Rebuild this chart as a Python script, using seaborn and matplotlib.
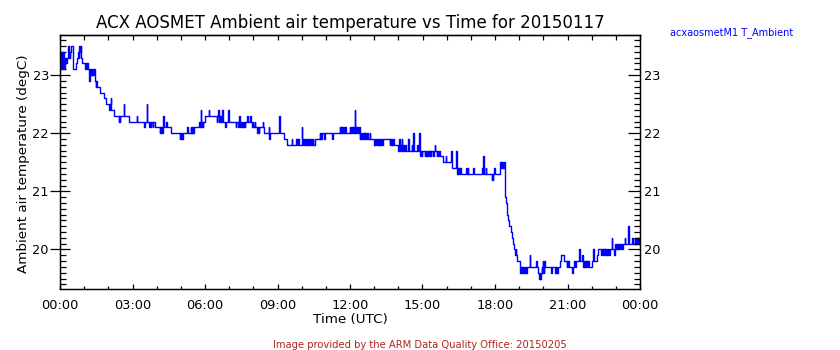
import numpy as np
import pandas as pd
import matplotlib
matplotlib.use("Agg")
import matplotlib.pyplot as plt
from matplotlib.ticker import MultipleLocator, FixedLocator, NullFormatter
import seaborn as sns

sns.set_theme(style="white")
plt.rcParams["font.family"] = ["DejaVu Sans"]

# Ambient air temperature (degC), minute of day where each new reading starts
night_min = [0, 1, 2, 4, 5, 7, 8, 10, 12, 13, 15, 16, 17, 19, 20, 21, 22, 23, 25, 26,
             28, 32, 40, 42, 44, 46, 47, 48, 50, 51, 52, 54, 62, 65, 67, 68, 70, 73, 74, 75,
             76, 78, 79, 80, 81, 83, 84, 86, 88, 89, 90, 91, 92, 93, 99, 110, 113, 122, 123, 124,
             125, 126, 127, 134, 146, 147, 148, 150, 159, 160, 171, 190, 191, 209, 211, 215, 216, 222, 223, 226,
             227, 230, 231, 235, 248, 249, 250, 251, 252, 253, 254, 255, 256, 257]
night_temp = [23.3, 23.1, 23.4, 23.1, 23.4, 23.1, 23.4, 23.1, 23.3, 23.2, 23.3, 23.2, 23.3, 23.5, 23.4, 23.5, 23.3, 23.4, 23.3, 23.4,
              23.5, 23.1, 23.2, 23.3, 23.4, 23.3, 23.4, 23.5, 23.4, 23.5, 23.3, 23.2, 23.1, 23.2, 23.1, 23.2, 23.1, 22.9, 23.1, 23.0,
              23.1, 23.0, 23.1, 23.0, 23.1, 23.0, 23.1, 23.0, 22.9, 22.8, 22.9, 22.8, 22.9, 22.8, 22.7, 22.6, 22.5, 22.4, 22.5, 22.4,
              22.5, 22.6, 22.4, 22.3, 22.2, 22.3, 22.2, 22.3, 22.5, 22.3, 22.2, 22.3, 22.2, 22.1, 22.2, 22.5, 22.2, 22.1, 22.2, 22.1,
              22.2, 22.1, 22.2, 22.1, 22.0, 22.1, 22.0, 22.1, 22.0, 22.1, 22.0, 22.1, 22.3, 22.1]

morning_min = [258, 264, 265, 275, 298, 299, 300, 302, 303, 305, 316, 317, 324, 325, 327, 328, 330, 331, 333, 346,
               347, 349, 350, 351, 353, 354, 356, 361, 369, 370, 390, 391, 393, 394, 395, 397, 398, 400, 403, 404,
               410, 411, 418, 419, 437, 438, 443, 444, 445, 446, 448, 449, 451, 452, 454, 455, 457, 459, 460, 465,
               466, 472, 473, 476, 478, 479, 484, 485, 488, 489, 490, 492, 493, 495, 503, 504, 506, 518, 519, 521,
               544, 545]
morning_temp = [22.1, 22.2, 22.1, 22.0, 21.9, 22.0, 21.9, 22.0, 21.9, 22.0, 22.1, 22.0, 22.1, 22.0, 22.1, 22.0, 22.1, 22.0, 22.1, 22.2,
                22.1, 22.4, 22.2, 22.1, 22.2, 22.1, 22.2, 22.3, 22.4, 22.3, 22.2, 22.3, 22.4, 22.2, 22.3, 22.2, 22.3, 22.2, 22.4, 22.2,
                22.1, 22.2, 22.4, 22.2, 22.1, 22.2, 22.1, 22.2, 22.3, 22.1, 22.2, 22.1, 22.2, 22.1, 22.2, 22.1, 22.2, 22.1, 22.2, 22.3,
                22.2, 22.3, 22.2, 22.1, 22.2, 22.1, 22.2, 22.1, 22.0, 22.1, 22.0, 22.1, 22.0, 22.1, 22.2, 22.1, 22.0, 22.1, 21.9, 22.0,
                22.3, 22.0]

midday_min = [557, 563, 575, 576, 586, 588, 589, 591, 592, 593, 600, 601, 604, 606, 608, 610, 611, 613, 614, 616,
              618, 621, 622, 624, 625, 627, 629, 633, 645, 646, 648, 649, 651, 656, 658, 676, 677, 695, 696, 698,
              699, 701, 702, 704, 705, 707, 709, 720, 721, 723, 724, 726, 727, 729, 731, 732, 733, 735, 736, 738,
              739, 741, 742, 745, 746, 748, 749, 751, 752, 754, 755, 757, 758, 760, 762, 765, 769, 770, 780, 781,
              783, 784, 786, 788, 789, 791, 792, 794, 795, 797, 799, 801, 819, 820, 822, 824, 825, 827, 829, 840,
              842, 843, 844, 845, 847, 848, 849, 850, 852, 853, 855, 856, 858, 865, 866, 874, 875, 877, 878, 887,
              888, 892, 893, 895, 896, 898, 900, 906, 907, 909, 910, 912, 913, 915, 916, 918, 919, 921, 922, 927,
              928, 931, 932, 935, 936, 939, 940, 943, 951]
midday_temp = [21.9, 21.8, 21.9, 21.8, 21.9, 21.8, 21.9, 21.8, 21.9, 21.8, 22.1, 21.9, 21.8, 21.9, 21.8, 21.9, 21.8, 21.9, 21.8, 21.9,
               21.8, 21.9, 21.8, 21.9, 21.8, 21.9, 21.8, 21.9, 22.0, 21.9, 22.0, 21.9, 22.0, 21.9, 22.0, 21.9, 22.0, 22.1, 22.0, 22.1,
               22.0, 22.1, 22.0, 22.1, 22.0, 22.1, 22.0, 22.1, 22.0, 22.1, 22.0, 22.1, 22.0, 22.1, 22.0, 22.4, 22.1, 22.0, 22.1, 22.0,
               22.1, 22.0, 22.1, 21.9, 22.0, 21.9, 22.0, 21.9, 22.0, 21.9, 22.0, 21.9, 22.0, 21.9, 22.0, 21.9, 22.0, 21.9, 21.8, 21.9,
               21.8, 21.9, 21.8, 21.9, 21.8, 21.9, 21.8, 21.9, 21.8, 21.9, 21.8, 21.9, 21.8, 21.9, 21.8, 21.9, 21.8, 21.9, 21.8, 21.7,
               21.9, 21.8, 21.7, 21.8, 21.7, 21.9, 21.7, 21.8, 21.7, 21.8, 21.7, 21.8, 21.7, 21.9, 21.7, 21.8, 21.7, 22.0, 21.7, 21.8,
               21.7, 22.0, 21.7, 21.6, 21.7, 21.6, 21.7, 21.6, 21.7, 21.6, 21.7, 21.6, 21.7, 21.6, 21.7, 21.6, 21.7, 21.6, 21.7, 21.6,
               21.7, 21.8, 21.7, 21.6, 21.7, 21.6, 21.7, 21.6, 21.5]

evening_min = [958, 959, 972, 973, 984, 985, 986, 988, 989, 991, 992, 994, 995, 1009, 1010, 1013, 1014, 1026, 1027, 1048,
               1049, 1051, 1052, 1057, 1058, 1072, 1073, 1074, 1076, 1078, 1079, 1092, 1093, 1095, 1096, 1098, 1099, 1101, 1102, 1104,
               1105, 1107, 1110, 1113, 1115, 1119, 1121, 1125, 1128, 1130, 1131, 1132, 1134, 1142, 1143, 1145, 1146, 1148, 1149, 1151,
               1152, 1154, 1157, 1159, 1167, 1168, 1183, 1184, 1187, 1189, 1191, 1192, 1193, 1194, 1195, 1196, 1197, 1198, 1199, 1200,
               1201, 1202, 1203, 1220, 1221, 1229, 1231, 1232, 1234, 1235, 1237]
evening_temp = [21.6, 21.5, 21.7, 21.4, 21.7, 21.4, 21.3, 21.4, 21.3, 21.4, 21.3, 21.4, 21.3, 21.4, 21.3, 21.4, 21.3, 21.4, 21.3, 21.4,
                21.3, 21.6, 21.3, 21.4, 21.3, 21.2, 21.3, 21.2, 21.3, 21.4, 21.3, 21.4, 21.5, 21.4, 21.5, 21.4, 21.5, 21.4, 21.5, 21.4,
                20.9, 20.8, 20.6, 20.5, 20.4, 20.3, 20.2, 20.1, 20.0, 19.9, 20.0, 19.9, 19.8, 19.7, 19.6, 19.7, 19.6, 19.7, 19.6, 19.7,
                19.6, 19.7, 19.6, 19.7, 19.9, 19.7, 19.8, 19.7, 19.6, 19.5, 19.6, 19.5, 19.6, 19.5, 19.6, 19.7, 19.6, 19.8, 19.6, 19.7,
                19.6, 19.8, 19.7, 19.6, 19.7, 19.6, 19.7, 19.6, 19.7, 19.6, 19.7]

late_min = [1241, 1243, 1251, 1258, 1259, 1261, 1262, 1264, 1272, 1274, 1277, 1278, 1280, 1281, 1282, 1289, 1290, 1297, 1298, 1299,
            1300, 1302, 1303, 1305, 1306, 1308, 1309, 1311, 1312, 1314, 1322, 1324, 1325, 1334, 1336, 1344, 1345, 1347, 1348, 1350,
            1351, 1353, 1354, 1356, 1357, 1359, 1361, 1363, 1365, 1370, 1371, 1375, 1377, 1378, 1380, 1382, 1383, 1385, 1386, 1388,
            1389, 1391, 1392, 1394, 1395, 1397, 1402, 1403, 1411, 1412, 1421, 1422, 1427, 1428, 1430, 1431, 1433, 1434, 1436, 1437,
            1439, 1440]
late_temp = [19.8, 19.9, 19.8, 19.7, 19.8, 19.7, 19.8, 19.7, 19.6, 19.7, 19.8, 19.7, 19.8, 19.7, 19.8, 20.0, 19.8, 19.9, 19.8, 19.7,
             19.8, 19.7, 19.8, 19.7, 19.8, 19.7, 19.8, 19.7, 19.8, 19.7, 19.8, 20.0, 19.8, 19.9, 20.0, 19.9, 20.0, 19.9, 20.0, 19.9,
             20.0, 19.9, 20.0, 19.9, 20.0, 19.9, 20.0, 19.9, 20.0, 20.2, 20.0, 19.9, 20.0, 20.1, 20.0, 20.1, 20.0, 20.1, 20.0, 20.1,
             20.0, 20.1, 20.0, 20.1, 20.0, 20.1, 20.2, 20.1, 20.4, 20.1, 20.2, 20.1, 20.2, 20.1, 20.2, 20.1, 20.2, 20.1, 20.2, 20.1,
             20.2, 20.2]

hour_ticks = [0, 3, 6, 9, 12, 15, 18, 21, 24]
hour_labels = ["00:00", "03:00", "06:00", "09:00", "12:00", "15:00", "18:00", "21:00", "00:00"]
temp_ticks = [20, 21, 22, 23]

minutes = np.concatenate([night_min, morning_min, midday_min, evening_min, late_min])
temps = np.concatenate([night_temp, morning_temp, midday_temp, evening_temp, late_temp])
df = pd.DataFrame({"hour": minutes / 60.0, "T_Ambient": temps})

W, H = 840, 350
fig = plt.figure(figsize=(W / 100, H / 100), dpi=100)
fig.patch.set_facecolor("white")
ax = fig.add_axes([60 / W, (H - 289) / H, 580 / W, 254 / H])
ax.set_facecolor("white")

sns.lineplot(data=df, x="hour", y="T_Ambient", ax=ax, drawstyle="steps-post",
             color="#0000ff", linewidth=1.0, estimator=None, sort=False, legend=False)

ylim = (19.32, 23.69)
ax.set_xlim(0, 24)
ax.set_ylim(*ylim)
ax.set_xlabel("")
ax.set_ylabel("")

for s in ax.spines.values():
    s.set_visible(True)
    s.set_color("black")
    s.set_linewidth(0.9)

tick_font = 9.3
ax.xaxis.set_major_locator(FixedLocator(hour_ticks))
ax.xaxis.set_minor_locator(MultipleLocator(1))
ax.set_xticklabels(hour_labels)
ax.tick_params(axis="x", which="major", direction="in", length=3.6, width=0.9,
               bottom=True, top=False, colors="black", labelsize=tick_font, pad=7)
ax.tick_params(axis="x", which="minor", direction="in", length=2.0, width=0.9,
               bottom=True, top=False, colors="black")

ax.yaxis.set_major_locator(FixedLocator(temp_ticks))
ax.yaxis.set_minor_locator(MultipleLocator(0.1))
ax.tick_params(axis="y", which="major", direction="inout", length=14, width=0.9,
               left=True, right=False, colors="black", labelsize=tick_font, pad=1)
ax.tick_params(axis="y", which="minor", direction="in", length=4.5, width=0.9,
               left=True, right=False, colors="black")

# top axis: ticks only
top = ax.secondary_xaxis("top")
top.xaxis.set_major_locator(FixedLocator(hour_ticks))
top.xaxis.set_minor_locator(MultipleLocator(1))
top.xaxis.set_major_formatter(NullFormatter())
top.tick_params(axis="x", which="both", direction="in", length=3.6, width=0.9, colors="black")
top.spines["top"].set_linewidth(0.9)

# right axis: ticks and labels
right = ax.twinx()
right.set_ylim(*ylim)
right.yaxis.set_major_locator(FixedLocator(temp_ticks))
right.yaxis.set_minor_locator(MultipleLocator(0.1))
right.tick_params(axis="y", which="major", direction="in", length=8.6, width=0.9,
                  colors="black", labelsize=tick_font, pad=3)
right.tick_params(axis="y", which="minor", direction="in", length=4.3, width=0.9, colors="black")
for s in right.spines.values():
    s.set_color("black")
    s.set_linewidth(0.9)
right.grid(False)
ax.grid(False)

fig.text(350 / W, 1 - 22.5 / H, "ACX AOSMET Ambient air temperature vs Time for 20150117",
         ha="center", va="center", fontsize=12, color="black")
fig.text(350 / W, 1 - 319 / H, "Time (UTC)", ha="center", va="center", fontsize=9.7, color="black")
fig.text(24 / W, 1 - 163.5 / H, "Ambient air temperature (degC)", ha="center", va="center",
         rotation=90, fontsize=9.7, color="black")
fig.text(670 / W, 1 - 32.5 / H, "acxaosmetM1 T_Ambient", ha="left", va="center",
         fontsize=7.0, color="#0000ff")
fig.text(420 / W, 1 - 345 / H, "Image provided by the ARM Data Quality Office: 20150205",
         ha="center", va="center", fontsize=7.2, color="#b22222")

fig.savefig("out.png", dpi=100, facecolor="white")
